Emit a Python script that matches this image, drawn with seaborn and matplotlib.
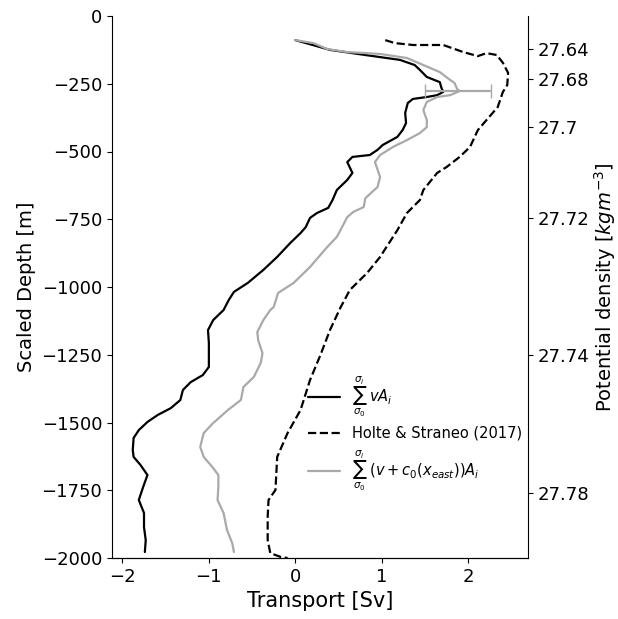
import numpy as np
import pandas as pd
import matplotlib
matplotlib.use("Agg")
import matplotlib.pyplot as plt
import seaborn as sns

# ===== data =====
# sum v*A_i  (black solid)
va_depth = [-89, -125, -144, -162, -181, -199, -225, -244, -266, -280, -292, -299, -306,
            -321, -358, -395, -421, -446, -476, -494, -513, -520, -539, -579, -605, -642,
            -679, -708, -727, -745, -779, -801, -838, -889, -937, -985, -1018, -1048,
            -1085, -1122, -1159, -1207, -1295, -1325, -1351, -1380, -1417, -1447, -1472,
            -1498, -1528, -1557, -1601, -1627, -1657, -1694, -1738, -1786, -1834, -1886,
            -1934, -1978]
va_transport = [0.00, 0.40, 0.81, 1.21, 1.38, 1.44, 1.52, 1.67, 1.69, 1.71, 1.64, 1.52, 1.36,
                1.30, 1.27, 1.28, 1.24, 1.18, 1.01, 0.95, 0.86, 0.66, 0.60, 0.66, 0.60, 0.48,
                0.43, 0.38, 0.25, 0.17, 0.12, 0.06, -0.06, -0.21, -0.37, -0.55, -0.71, -0.77,
                -0.83, -0.95, -1.01, -1.00, -1.00, -1.07, -1.21, -1.30, -1.33, -1.44, -1.59,
                -1.71, -1.81, -1.87, -1.88, -1.87, -1.79, -1.71, -1.76, -1.81, -1.75, -1.75,
                -1.73, -1.74]

# sum (v + c0(x_east)) A_i  (grey)
vc_depth = [-89, -100, -122, -133, -140, -155, -181, -207, -236, -247, -269, -277, -292,
            -299, -317, -347, -384, -410, -432, -458, -483, -513, -539, -594, -631, -672,
            -705, -723, -742, -779, -815, -852, -926, -985, -1022, -1074, -1085, -1122,
            -1166, -1196, -1244, -1280, -1332, -1369, -1417, -1454, -1502, -1539, -1590,
            -1627, -1664, -1694, -1738, -1786, -1834, -1897, -1945, -1978]
vc_transport = [0.00, 0.21, 0.37, 0.60, 0.98, 1.29, 1.48, 1.67, 1.79, 1.84, 1.87, 1.90, 1.79,
                1.64, 1.52, 1.48, 1.52, 1.52, 1.44, 1.29, 1.13, 0.98, 0.92, 0.98, 0.95, 0.81,
                0.79, 0.67, 0.60, 0.54, 0.48, 0.37, 0.17, -0.02, -0.20, -0.25, -0.29, -0.37,
                -0.44, -0.43, -0.38, -0.40, -0.48, -0.60, -0.63, -0.78, -0.95, -1.06, -1.10,
                -1.06, -0.96, -0.89, -0.89, -0.90, -0.83, -0.79, -0.73, -0.71]

# Holte & Straneo (2017)  (black dashed)
hs_depth = [-89, -100, -107, -107, -133, -148, -137, -144, -173, -210, -255, -280, -336,
            -384, -421, -483, -520, -557, -579, -642, -679, -727, -790, -889, -948, -1011,
            -1077, -1159, -1251, -1343, -1454, -1539, -1627, -1749, -1786, -1849, -1934,
            -1982, -1996, -2000]
hs_transport = [1.04, 1.15, 1.36, 1.71, 1.94, 2.11, 2.21, 2.33, 2.40, 2.46, 2.45, 2.40, 2.34,
                2.21, 2.11, 2.02, 1.90, 1.75, 1.64, 1.48, 1.44, 1.29, 1.18, 0.98, 0.83, 0.63,
                0.52, 0.40, 0.29, 0.17, 0.06, -0.09, -0.21, -0.23, -0.31, -0.32, -0.32,
                -0.29, -0.17, -0.09]

# error bar on the grey curve
err_x = [1.88]
err_depth = [-277]
err_size = [0.38]

# isopycnal depths for the right axis
dens_depth = [-122, -232, -410, -745, -1251, -1760]
dens_labels = ["27.64", "27.68", "27.7", "27.72", "27.74", "27.78"]

lab_va = r"$\sum_{\sigma_0}^{\sigma_i}\; vA_i$"
lab_hs = "Holte & Straneo (2017)"
lab_vc = r"$\sum_{\sigma_0}^{\sigma_i}\; (v + c_0(x_{east}))A_i$"

df_va = pd.DataFrame({"Transport": va_transport, "Depth": va_depth})
df_vc = pd.DataFrame({"Transport": vc_transport, "Depth": vc_depth})
df_hs = pd.DataFrame({"Transport": hs_transport, "Depth": hs_depth})

# ===== plot =====
sns.set_style("ticks")
plt.rcParams["font.family"] = ["DejaVu Sans"]
plt.rcParams["axes.edgecolor"] = "black"
plt.rcParams["text.color"] = "black"
plt.rcParams["xtick.color"] = "black"
plt.rcParams["ytick.color"] = "black"
plt.rcParams["axes.labelcolor"] = "black"

fig = plt.figure(figsize=(6.18, 6.19), dpi=100)
ax = fig.add_axes([112 / 618, 1 - 558 / 619, 416 / 618, 542 / 619])

grey = "#a9a9a9"
sns.lineplot(data=df_va, x="Transport", y="Depth", sort=False, estimator=None,
             color="black", lw=1.6, label=lab_va, ax=ax)
sns.lineplot(data=df_hs, x="Transport", y="Depth", sort=False, estimator=None,
             color="black", lw=1.6, linestyle="--", label=lab_hs, ax=ax)
sns.lineplot(data=df_vc, x="Transport", y="Depth", sort=False, estimator=None,
             color=grey, lw=1.6, label=lab_vc, ax=ax)
ax.errorbar(err_x, err_depth, xerr=err_size, fmt="none", ecolor=grey,
            elinewidth=1.6, capsize=5)

ax.set_xlim(-2.12, 2.69)
ax.set_ylim(-2000, 0)
ax.set_xticks([-2, -1, 0, 1, 2])
ax.set_yticks(np.arange(-2000, 1, 250))
ax.set_xlabel("Transport [Sv]", fontsize=15)
ax.set_ylabel("Scaled Depth [m]", fontsize=14)
ax.tick_params(labelsize=13)
ax.spines["top"].set_visible(False)
ax.spines["right"].set_visible(False)

ax.legend(loc="center right", bbox_to_anchor=(1.0, 0.23), frameon=False,
          fontsize=10.5, borderaxespad=0, handlelength=2.2)

ax2 = ax.twinx()
ax2.set_ylim(ax.get_ylim())
ax2.set_yticks(dens_depth)
ax2.set_yticklabels(dens_labels)
ax2.tick_params(labelsize=13)
ax2.set_ylabel(r"Potential density [$kgm^{-3}$]", fontsize=14, labelpad=2)
ax2.spines["top"].set_visible(False)
ax2.spines["left"].set_visible(False)

fig.savefig("out.png", dpi=100)
